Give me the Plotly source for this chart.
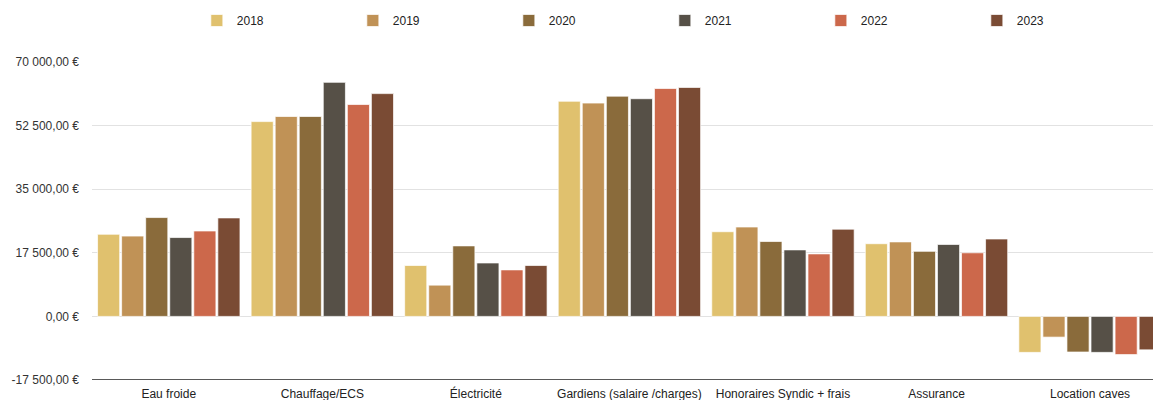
import plotly.graph_objects as go

categories = ["Eau froide", "Chauffage/ECS", "Électricité", "Gardiens (salaire /charges)",
              "Honoraires Syndic + frais", "Assurance", "Location caves"]
years = ["2018", "2019", "2020", "2021", "2022", "2023"]
colors = ["#E0C16E", "#C09256", "#8A6B3B", "#565047", "#CC684B", "#7A4B34"]

v2018 = [22600, 53600, 14000, 59200, 23300, 20000, -9900]
v2019 = [22100, 55000, 8600, 58700, 24600, 20500, -5700]
v2020 = [27200, 55000, 19400, 60600, 20600, 17900, -9800]
v2021 = [21700, 64400, 14700, 59900, 18300, 19800, -9900]
v2022 = [23500, 58300, 12800, 62700, 17200, 17500, -10500]
v2023 = [27100, 61300, 14000, 63000, 24000, 21300, -9200]
series = [v2018, v2019, v2020, v2021, v2022, v2023]

tick_vals = [-17500, 0, 17500, 35000, 52500, 70000]
tick_text = ["-17 500,00 €", "0,00 €", "17 500,00 €", "35 000,00 €", "52 500,00 €", "70 000,00 €"]

fig = go.Figure()
for y, vals, c in zip(years, series, colors):
    fig.add_trace(go.Bar(
        name=y, x=categories, y=vals,
        marker=dict(color=c, line=dict(color="rgba(255,255,255,0.7)", width=1)),
    ))

fig.update_layout(
    width=1153, height=400,
    margin=dict(l=92, r=0, t=62, b=20),
    plot_bgcolor="white", paper_bgcolor="white",
    barmode="group", bargap=0.06, bargroupgap=0.08,
    font=dict(family="Liberation Sans, Arial, sans-serif", size=12, color="#333333"),
    legend=dict(orientation="h", x=0.981, xanchor="right", xref="paper",
                y=0.985, yref="container", yanchor="top",
                font=dict(size=12, color="#222222"), entrywidth=111, entrywidthmode="pixels",
                tracegroupgap=0, itemclick=False),
    showlegend=True,
)
fig.update_xaxes(range=[-0.5, 6.41], showgrid=False, showline=False, ticks="",
                 ticklabelstandoff=5,
                 tickfont=dict(size=12, color="#222222"))
fig.update_yaxes(range=[-17500, 70000], tickvals=tick_vals, ticktext=tick_text,
                 showgrid=True, gridcolor="#E2E2E2", gridwidth=1,
                 zeroline=True, zerolinecolor="#E2E2E2", zerolinewidth=1,
                 showline=False, ticklabelstandoff=12,
                 tickfont=dict(size=12, color="#333333"))
fig.add_shape(type="line", xref="paper", yref="y", x0=0, x1=1, y0=-17500, y1=-17500,
              line=dict(color="#222222", width=1.5))
fig.write_html("out.html")
